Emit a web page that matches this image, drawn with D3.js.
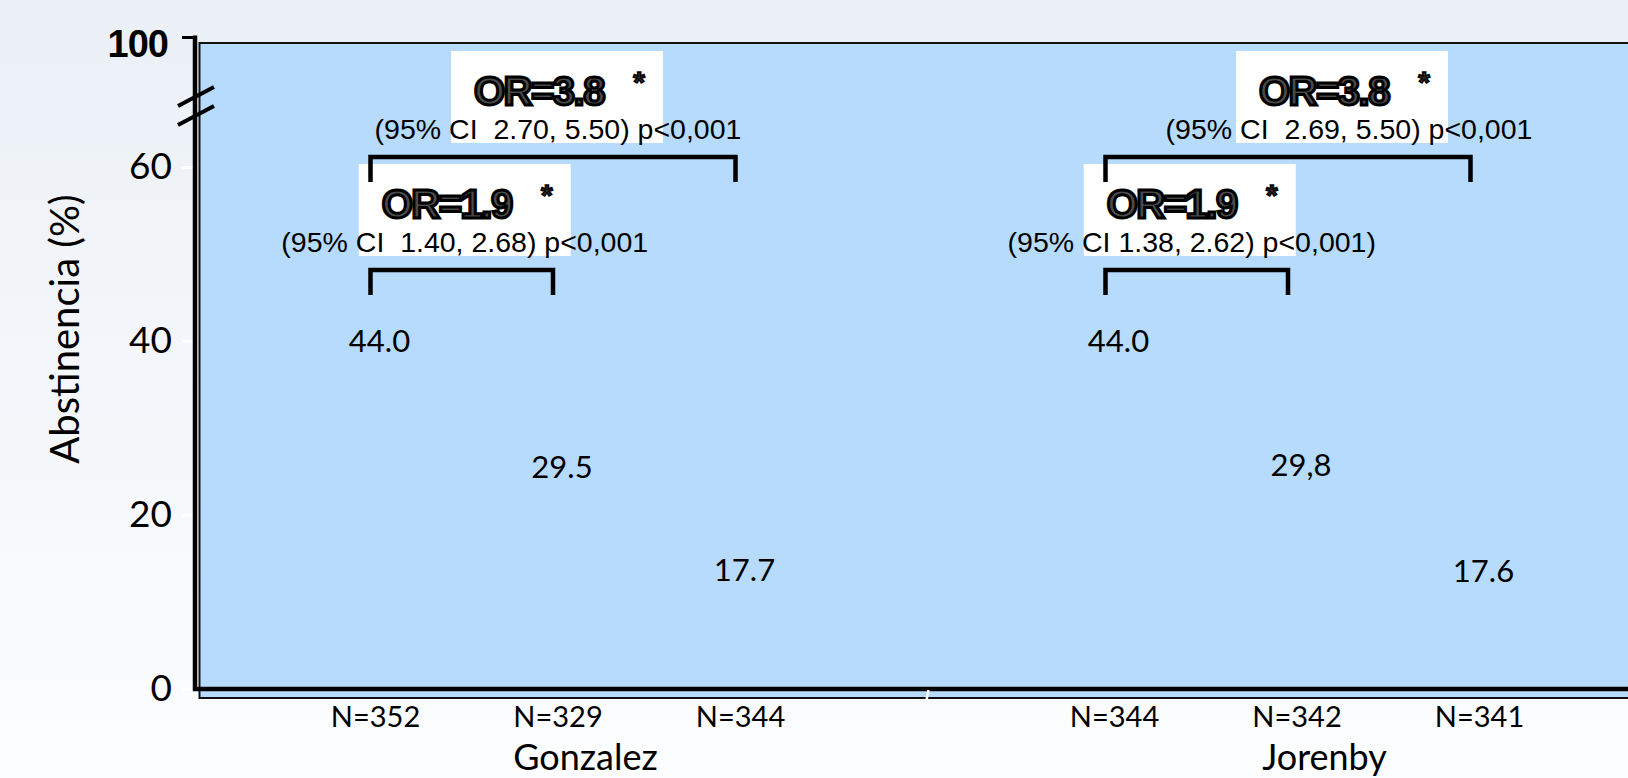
<!DOCTYPE html>
<html>
<head>
<meta charset="utf-8">
<script src="https://cdn.jsdelivr.net/npm/d3@7/dist/d3.min.js"></script>
<style>
  html, body { margin: 0; padding: 0; overflow: hidden; }
  body { width: 1628px; height: 778px; }
  svg { display: block; }
</style>
</head>
<body>
<svg id="chart" width="1628" height="778"></svg>
<script>
// ---- data ----
const groupNames = ["Gonzalez", "Jorenby"];
const armKeys = ["vareniclina", "bupropion", "placebo"];
const gonzalezValues = [44.0, 29.5, 17.7];
const jorenbyValues = [44.0, 29.8, 17.6];
const gonzalezValueLabels = ["44.0", "29.5", "17.7"];
const jorenbyValueLabels = ["44.0", "29,8", "17.6"];
const gonzalezN = ["N=352", "N=329", "N=344"];
const jorenbyN = ["N=344", "N=342", "N=341"];
const yTicks = [0, 20, 40, 60];
const yTopTick = 100;
const yTitle = "Abstinencia (%)";

// odds-ratio comparisons: first arm against the other two
const comparisonGroups = ["Gonzalez", "Gonzalez", "Jorenby", "Jorenby"];
const comparisonFrom = [0, 0, 0, 0];
const comparisonTo = [1, 2, 1, 2];
const comparisonOR = ["OR=1.9", "OR=3.8", "OR=1.9", "OR=3.8"];
const comparisonCI = [
  "(95% CI  1.40, 2.68) p<0,001",
  "(95% CI  2.70, 5.50) p<0,001",
  "(95% CI 1.38, 2.62) p<0,001)",
  "(95% CI  2.69, 5.50) p<0,001"
];

const series = {
  Gonzalez: { values: gonzalezValues, labels: gonzalezValueLabels, n: gonzalezN },
  Jorenby: { values: jorenbyValues, labels: jorenbyValueLabels, n: jorenbyN }
};

// ---- layout ----
const W = 1628, H = 778;
const plotLeft = 199.5, plotTop = 43, plotBottom = 698;
const axisX = 195;
const tierY = [270, 157];              // bracket heights, lower and upper tier
const orDx = [-78, -77, -88, -27];     // OR label start relative to bracket centre
const ciDx = [3, 5, -5, 61];           // CI label centre relative to bracket centre
const legShift = { Gonzalez: -5, Jorenby: -9 };

const svg = d3.select("#chart");
const defs = svg.append("defs");
const bg = defs.append("linearGradient").attr("id", "bg")
  .attr("x1", 0).attr("y1", 0).attr("x2", 0).attr("y2", 1);
bg.append("stop").attr("offset", "0%").attr("stop-color", "#ebf0f6");
bg.append("stop").attr("offset", "100%").attr("stop-color", "#fcfdfe");

svg.append("rect").attr("width", W).attr("height", H).attr("fill", "url(#bg)");

// scales: broken y axis (0-60 linear, then compressed up to 100)
const y = d3.scaleLinear().domain([0, 60, 100]).range([689, 167, 37]);
const x0 = d3.scaleBand().domain(groupNames).range([197, 197 + 2 * 739]);
const x1 = d3.scalePoint().domain(armKeys).range([-4, 726]).padding(1);
const cx = (g, i) => x0(g) + x1(armKeys[i]);

const plotFill = "#b7dbfd";

// plot area
svg.append("rect")
  .attr("x", plotLeft).attr("y", plotTop)
  .attr("width", W + 20 - plotLeft).attr("height", plotBottom - plotTop)
  .attr("fill", plotFill).attr("stroke", "#111").attr("stroke-width", 2);

// bars (same tone as the plot area)
const barW = 120;
groupNames.forEach(g => {
  svg.append("g").selectAll("rect")
    .data(series[g].values)
    .join("rect")
    .attr("x", (d, i) => cx(g, i) - barW / 2)
    .attr("width", barW)
    .attr("y", d => y(d))
    .attr("height", d => y(0) - y(d))
    .attr("fill", plotFill);
});

// y axis
const yAxis = d3.axisLeft(y).tickValues(yTicks.concat([yTopTick]))
  .tickSize(13).tickPadding(10).tickFormat(d3.format("d"));
const yg = svg.append("g").attr("transform", `translate(${axisX},0)`).call(yAxis);
yg.select(".domain").remove();
yg.selectAll(".tick line").attr("stroke", "#fff").attr("stroke-width", 3);
yg.selectAll(".tick text")
  .attr("fill", "#000")
  .style("font-family", "Lato, 'Open Sans', sans-serif")
  .style("font-size", "37px");
yg.selectAll(".tick").filter(d => d === yTopTick).select("line")
  .attr("stroke", "#000").attr("stroke-width", 3);
yg.selectAll(".tick").filter(d => d === yTopTick).select("text")
  .attr("dy", "0.5em").attr("x", -27)
  .style("font-family", "'Liberation Sans', Arial, sans-serif")
  .style("font-weight", "bold").style("font-size", "38px")
  .style("letter-spacing", "-1px");

// thick axis lines
svg.append("line").attr("x1", axisX).attr("x2", axisX)
  .attr("y1", y(yTopTick) - 1.5).attr("y2", y(0) + 2)
  .attr("stroke", "#000").attr("stroke-width", 4.5);
svg.append("line").attr("x1", axisX - 2).attr("x2", W + 10)
  .attr("y1", y(0)).attr("y2", y(0))
  .attr("stroke", "#000").attr("stroke-width", 4.5);

// axis break marks
[0, 19].forEach(off => {
  svg.append("line")
    .attr("x1", 178).attr("y1", 106 + off).attr("x2", 214).attr("y2", 87 + off)
    .attr("stroke", "#000").attr("stroke-width", 4);
});

// group separator tick
const sepX = (cx("Gonzalez", 2) + cx("Jorenby", 0)) / 2;
svg.append("line").attr("x1", sepX + 1).attr("x2", sepX - 1)
  .attr("y1", y(0) + 1).attr("y2", y(0) + 11)
  .attr("stroke", "#fff").attr("stroke-width", 2.5);

// y title
svg.append("text")
  .attr("transform", `translate(79,${329}) rotate(-90)`)
  .attr("text-anchor", "middle")
  .style("font-family", "Lato, 'Open Sans', sans-serif")
  .style("font-size", "40px")
  .text(yTitle);

// value labels and N labels
groupNames.forEach(g => {
  const s = series[g];
  svg.append("g").selectAll("text")
    .data(s.values)
    .join("text")
    .attr("x", (d, i) => cx(g, i) + 4)
    .attr("y", d => y(d) + 46)
    .attr("text-anchor", "middle")
    .style("font-family", "Lato, 'Open Sans', sans-serif")
    .style("font-size", "31px")
    .text((d, i) => s.labels[i]);

  svg.append("g").selectAll("text")
    .data(s.n)
    .join("text")
    .attr("x", (d, i) => cx(g, i))
    .attr("y", 727)
    .attr("text-anchor", "middle")
    .style("font-family", "Lato, 'Open Sans', sans-serif")
    .style("font-size", "29px")
    .text(d => d);

  svg.append("text")
    .attr("x", x0(g) + x0.bandwidth() / 2 + 19)
    .attr("y", 770)
    .attr("text-anchor", "middle")
    .style("font-family", "Lato, 'Open Sans', sans-serif")
    .style("font-size", "36px")
    .text(g);
});

// odds-ratio brackets
comparisonOR.forEach((or, k) => {
  const g = comparisonGroups[k];
  const tier = comparisonTo[k] - 1;
  const top = tierY[tier];
  const xa = cx(g, comparisonFrom[k]) + legShift[g];
  const xb = cx(g, comparisonTo[k]) + legShift[g];
  const mid = (xa + xb) / 2;
  const orX = mid + orDx[k];
  const a = svg.append("g");

  a.append("rect")
    .attr("x", orX - 25).attr("y", top - 106)
    .attr("width", 212).attr("height", 92)
    .attr("fill", "#fff");

  a.append("text")
    .attr("x", mid + ciDx[k]).attr("y", top - 18)
    .attr("text-anchor", "middle")
    .style("white-space", "pre")
    .style("font-family", "'Liberation Sans', Arial, sans-serif")
    .style("font-size", "28.5px")
    .text(comparisonCI[k]);

  a.append("text")
    .attr("x", orX - 2).attr("y", top - 52)
    .style("font-family", "'Liberation Sans', Arial, sans-serif")
    .style("font-weight", "bold").style("font-size", "40px")
    .style("letter-spacing", "-1.5px")
    .attr("fill", "#4a4a4a").attr("stroke", "#000").attr("stroke-width", 3)
    .text(or);

  a.append("text")
    .attr("x", orX + 163).attr("y", top - 65)
    .attr("text-anchor", "middle")
    .style("font-family", "'Liberation Sans', Arial, sans-serif")
    .style("font-weight", "bold").style("font-size", "30px")
    .attr("fill", "#333").attr("stroke", "#000").attr("stroke-width", 1.5)
    .text("*");

  a.append("path")
    .attr("d", `M${xa},${top + 25}V${top}H${xb}V${top + 25}`)
    .attr("fill", "none").attr("stroke", "#000").attr("stroke-width", 4.5)
    .attr("stroke-linejoin", "miter");
});
</script>
</body>
</html>
